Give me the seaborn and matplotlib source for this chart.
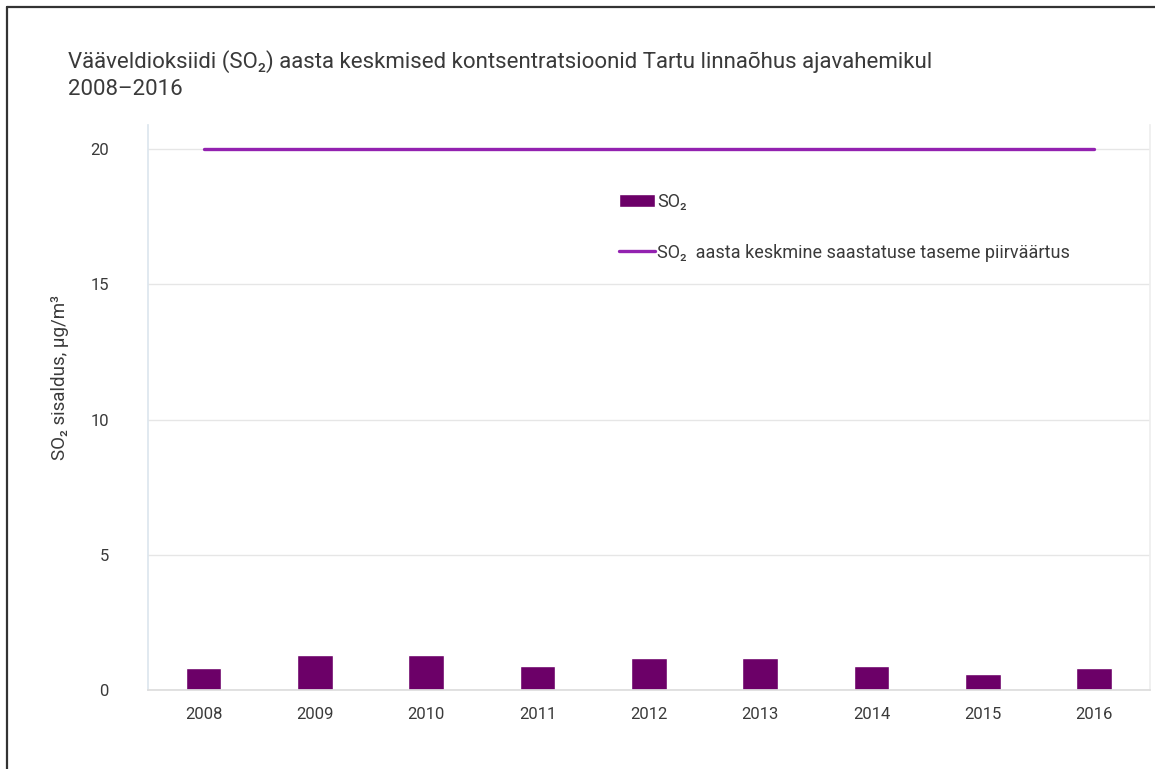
import numpy as np
import pandas as pd
import matplotlib.pyplot as plt
import seaborn as sns
from matplotlib.lines import Line2D

years = ["2008", "2009", "2010", "2011", "2012", "2013", "2014", "2015", "2016"]
so2 = [0.8, 1.3, 1.3, 0.9, 1.2, 1.2, 0.9, 0.6, 0.8]
limit = [20, 20, 20, 20, 20, 20, 20, 20, 20]
y_ticks = [0, 5, 10, 15, 20]

title = ("Vääveldioksiidi (SO₂) aasta keskmised kontsentratsioonid Tartu linnaõhus ajavahemikul\n"
         "2008–2016")
ylabel = "SO₂ sisaldus, µg/m³"
bar_label = "SO₂"
line_label = "SO₂  aasta keskmine saastatuse taseme piirväärtus"

bar_color = "#6c0068"
line_color = "#9322b0"
text_color = "#3a3a3a"

sns.set_theme(style="white")
plt.rcParams['font.family'] = ['Roboto', 'DejaVu Sans']

df = pd.DataFrame({"year": years, "so2": so2})

fig = plt.figure(figsize=(11.55, 7.69), dpi=100)
ax = fig.add_axes([0.128, 0.1027, 0.8675, 0.735])

sns.barplot(data=df, x="year", y="so2", color=bar_color, width=0.32,
            saturation=1, ax=ax, label=bar_label)
sns.lineplot(x=np.arange(len(years)), y=limit, color=line_color, linewidth=2.4,
             ax=ax, label=line_label)

ax.set_xlim(-0.5, len(years) - 0.5)
ax.set_ylim(0, 20.9)
ax.set_yticks(y_ticks)
ax.set_xlabel("")
ax.set_ylabel("")
ax.grid(axis="y", color="#e6e6e6", linewidth=1)
ax.set_axisbelow(True)
ax.spines["top"].set_visible(False)
ax.spines["left"].set_color("#dde6ee")
ax.spines["right"].set_color("#eeeeee")
ax.spines["bottom"].set_color("#dddddd")
ax.tick_params(axis="y", length=0, pad=28, labelsize=12, labelcolor=text_color)
ax.tick_params(axis="x", length=0, pad=12, labelsize=12, labelcolor=text_color)

# bar entry first, then the limit line
handles, labels = ax.get_legend_handles_labels()
order = [labels.index(bar_label), labels.index(line_label)]
leg = ax.legend([handles[i] for i in order], [labels[i] for i in order],
                loc="upper left", bbox_to_anchor=(0.522, 0.77),
                bbox_transform=fig.transFigure, frameon=False, fontsize=13,
                handlelength=2.0, handletextpad=0.1, labelspacing=1.8)
for t in leg.get_texts():
    t.set_color(text_color)

fig.text(68 / 1155, 1 - 50 / 769, title, fontsize=16, color=text_color,
         va="top", ha="left", linespacing=1.35)
fig.text(60 / 1155, 1 - 378 / 769, ylabel, fontsize=13.5, color=text_color,
         rotation=90, va="center", ha="center")

# frame of the original image
fig.add_artist(Line2D([7 / 1155, 7 / 1155], [0, 1 - 7 / 769], transform=fig.transFigure,
                      color="#333333", linewidth=1.6))
fig.add_artist(Line2D([7 / 1155, 1], [1 - 7 / 769, 1 - 7 / 769], transform=fig.transFigure,
                      color="#333333", linewidth=1.6))

fig.savefig("out.png", dpi=100)
